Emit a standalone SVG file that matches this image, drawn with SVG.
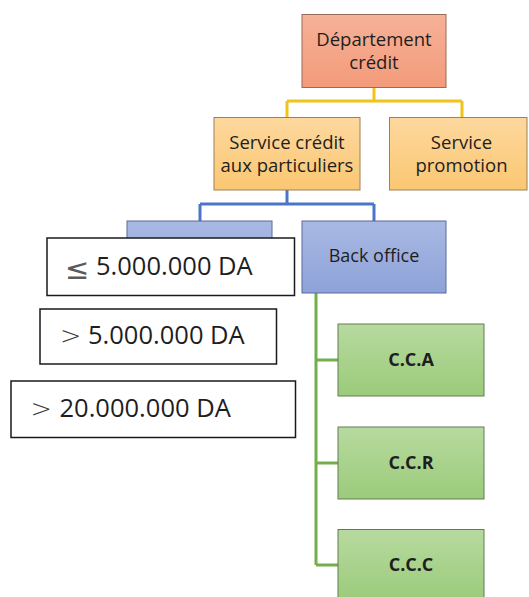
<svg xmlns="http://www.w3.org/2000/svg" width="529" height="597" viewBox="0 0 529 597">
  <style>
    .lbl { font-family: "Open Sans", "Noto Sans", "DejaVu Sans", sans-serif; fill: #1e1e1e; text-anchor: middle; }
    .top { font-size: 18.5px; }
    .mid { font-size: 18px; }
    .bold { font-size: 18px; font-weight: bold; }
    .amt { font-family: "Open Sans", "Noto Sans", sans-serif; font-size: 25.5px; fill: #1e1e1e; }
    .sym { font-family: "DejaVu Sans", sans-serif; font-weight: 200; font-size: 25.5px; fill: #3a3a3a; }
    .le { font-family: "DejaVu Sans", sans-serif; font-weight: normal; font-size: 29px; fill: #5a5a5a; }
    .box { stroke-width: 1; }
    .note { fill: #ffffff; stroke: #1a1a1a; stroke-width: 1.5; }
    .conn { fill: none; stroke-width: 3; }
  </style>
  <defs>
    <linearGradient id="gRed" x1="0" y1="0" x2="0" y2="1">
      <stop offset="0" stop-color="#f6b197"/>
      <stop offset="1" stop-color="#f39b7b"/>
    </linearGradient>
    <linearGradient id="gGold" x1="0" y1="0" x2="0" y2="1">
      <stop offset="0" stop-color="#fdd89e"/>
      <stop offset="1" stop-color="#fbc772"/>
    </linearGradient>
    <linearGradient id="gBlue" x1="0" y1="0" x2="0" y2="1">
      <stop offset="0" stop-color="#a9b9e3"/>
      <stop offset="1" stop-color="#8da2d8"/>
    </linearGradient>
    <linearGradient id="gGreen" x1="0" y1="0" x2="0" y2="1">
      <stop offset="0" stop-color="#b7da9f"/>
      <stop offset="1" stop-color="#9bcb7b"/>
    </linearGradient>
  </defs>

  <rect width="529" height="597" fill="#ffffff"/>

  <!-- connectors -->
  <g id="connectors">
    <path class="conn" stroke="#f2c31a" d="M374 87 V101 M287 101 H462 M287 101 V118 M462 101 V118"/>
    <path class="conn" stroke="#4a76c6" d="M287 190 V204 M200 204 H374 M200 204 V221 M374 204 V221"/>
    <path class="conn" stroke="#74ae4c" d="M316 293 V565 M316 360 H338 M316 463 H338 M316 565 H338"/>
  </g>

  <g id="departement">
    <rect class="box" x="302" y="14.5" width="144" height="73" fill="url(#gRed)" stroke="#9a6a58"/>
    <text class="lbl top" x="374" y="46">Département</text>
    <text class="lbl top" x="374" y="69">crédit</text>
  </g>

  <g id="service-particuliers">
    <rect class="box" x="214" y="117.5" width="146" height="72.5" fill="url(#gGold)" stroke="#9c8157"/>
    <text class="lbl top" x="287" y="148.5">Service crédit</text>
    <text class="lbl top" x="287" y="171.5">aux particuliers</text>
  </g>

  <g id="service-promotion">
    <rect class="box" x="389.5" y="117.5" width="137.5" height="72.5" fill="url(#gGold)" stroke="#9c8157"/>
    <text class="lbl top" x="461.5" y="148.5">Service</text>
    <text class="lbl top" x="461.5" y="171.5">promotion</text>
  </g>

  <g id="front-office">
    <rect class="box" x="127" y="221" width="145" height="72" fill="url(#gBlue)" stroke="#5b6b9c"/>
  </g>

  <g id="back-office">
    <rect class="box" x="302" y="221" width="144" height="72" fill="url(#gBlue)" stroke="#5b6b9c"/>
    <text class="lbl mid" x="374" y="262">Back office</text>
  </g>

  <g id="cca">
    <rect class="box" x="338" y="324" width="146" height="72" fill="url(#gGreen)" stroke="#627d52"/>
    <text class="lbl bold" x="411" y="366">C.C.A</text>
  </g>

  <g id="ccr">
    <rect class="box" x="338" y="427" width="146" height="72" fill="url(#gGreen)" stroke="#627d52"/>
    <text class="lbl bold" x="411" y="469">C.C.R</text>
  </g>

  <g id="ccc">
    <rect class="box" x="338" y="529.5" width="146" height="72" fill="url(#gGreen)" stroke="#627d52"/>
    <text class="lbl bold" x="411" y="571">C.C.C</text>
  </g>

  <!-- amount thresholds -->
  <g id="seuil-1">
    <rect class="note" x="47" y="238" width="247.5" height="57.5"/>
    <text class="le" x="65" y="279">≤</text>
    <text class="amt" x="96" y="275">5.000.000 DA</text>
  </g>

  <g id="seuil-2">
    <rect class="note" x="40" y="309" width="236.5" height="55"/>
    <text class="sym" x="60" y="344">&gt;</text>
    <text class="amt" x="88" y="344">5.000.000 DA</text>
  </g>

  <g id="seuil-3">
    <rect class="note" x="11" y="381" width="284.5" height="56.5"/>
    <text class="sym" x="30.5" y="417">&gt;</text>
    <text class="amt" x="59.5" y="417">20.000.000 DA</text>
  </g>
</svg>
